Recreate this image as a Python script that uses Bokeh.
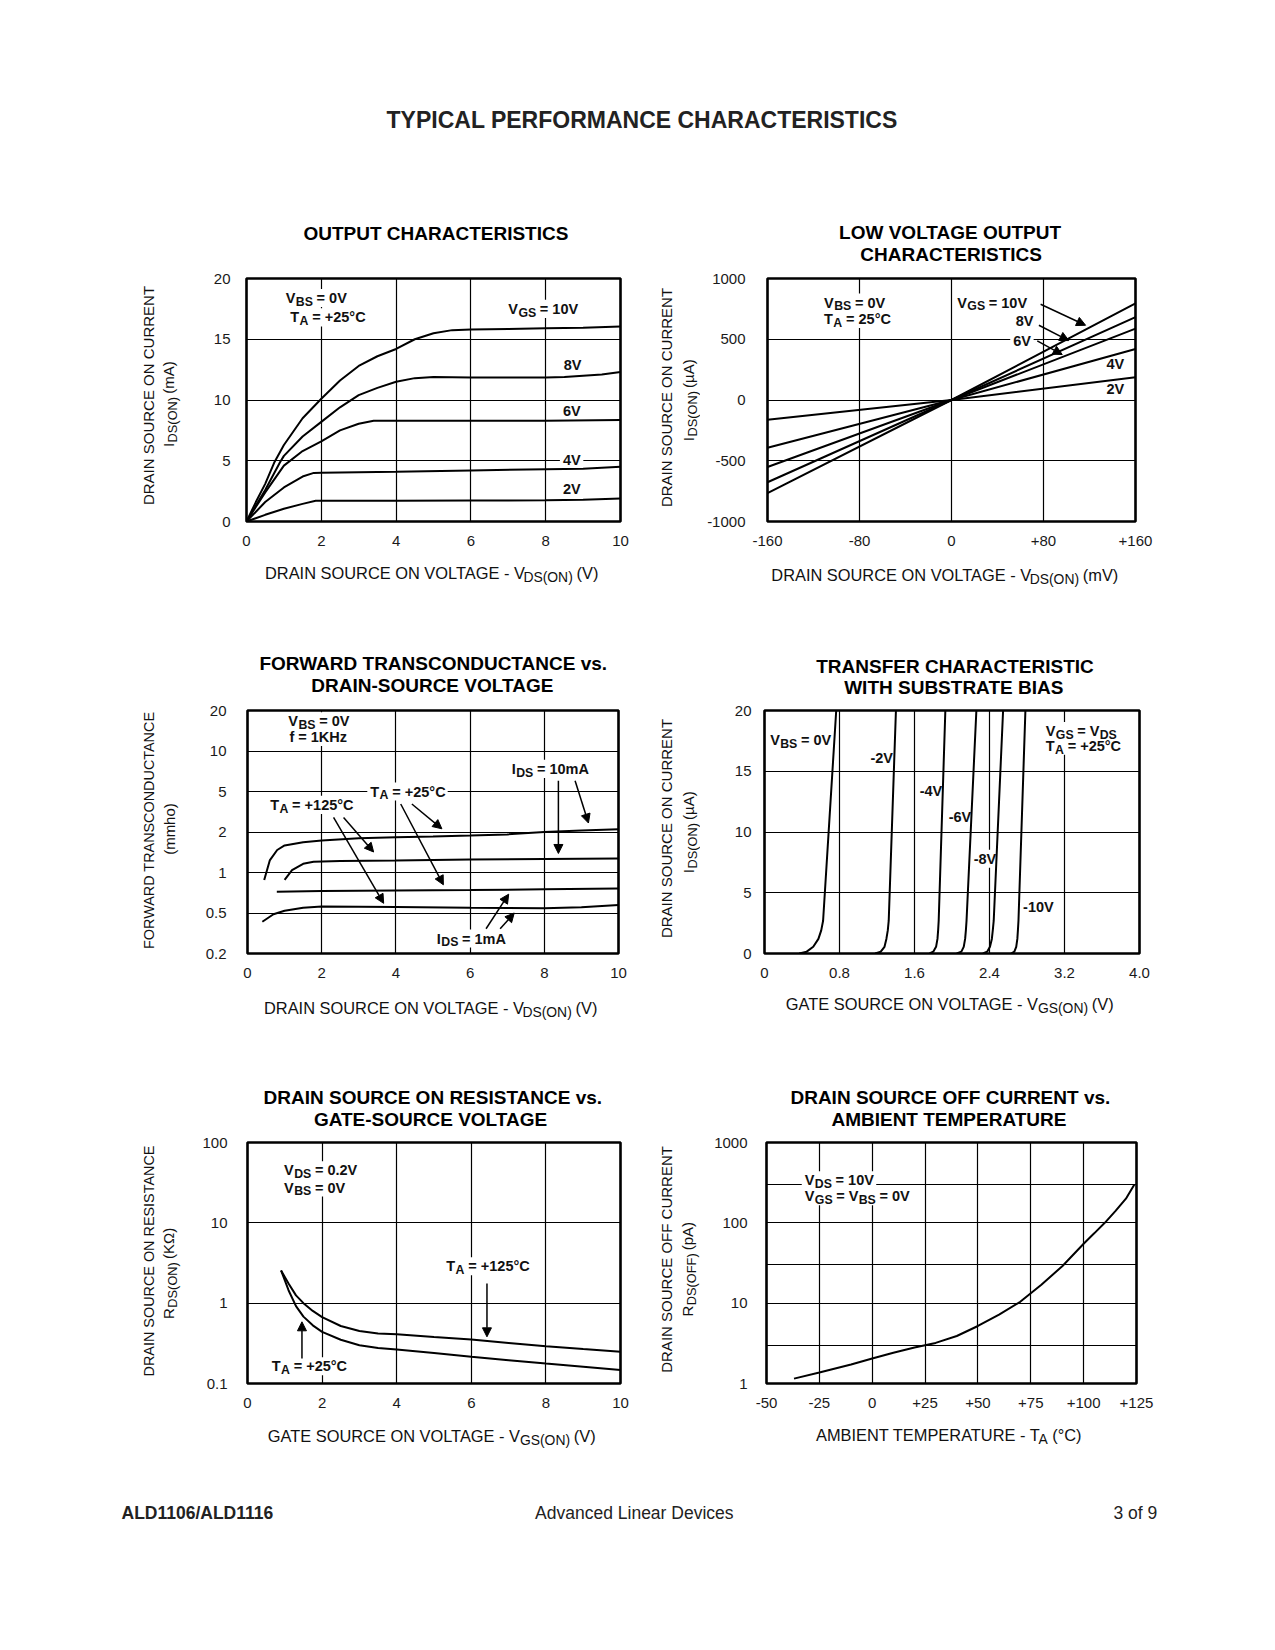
import re
import numpy as np
from bokeh.plotting import figure
from bokeh.models import Range1d, FixedTicker, Label, Arrow, NormalHead, CustomJSTickFormatter
from bokeh.layouts import column, row
from bokeh.embed import file_html
from bokeh.resources import INLINE

FONT = "Liberation Sans"
INK = "#111111"

# ---------------- data ----------------
# 1. Output characteristics: V_DS (V) vs I_DS (mA)
OUT_V_10 = [0, 0.25, 0.5, 0.75, 1, 1.5, 2, 2.5, 3, 3.5, 4, 4.5, 5, 5.5, 6, 7, 8, 9, 10]
OUT_I_10 = [0, 1.6, 3.1, 4.9, 6.3, 8.5, 10.1, 11.6, 12.8, 13.6, 14.2, 15.0, 15.5, 15.75, 15.8, 15.85, 15.9, 15.95, 16.05]
OUT_V_8 = [0, 0.5, 0.9, 1, 1.5, 2, 2.5, 3, 3.5, 4, 4.5, 5, 6, 7, 8, 8.5, 9, 9.5, 10]
OUT_I_8 = [0, 2.6, 4.9, 5.4, 7.0, 8.2, 9.4, 10.4, 11.0, 11.5, 11.8, 11.9, 11.85, 11.85, 11.85, 11.9, 12.0, 12.1, 12.3]
OUT_V_6 = [0, 0.5, 1, 1.5, 2, 2.5, 3, 3.4, 4, 6, 8, 10]
OUT_I_6 = [0, 2.4, 4.6, 5.8, 6.6, 7.5, 8.05, 8.3, 8.3, 8.3, 8.3, 8.35]
OUT_V_4 = [0, 0.5, 1, 1.5, 1.8, 2, 4, 6, 8, 9, 10]
OUT_I_4 = [0, 1.6, 2.8, 3.7, 4.0, 4.02, 4.1, 4.2, 4.3, 4.35, 4.5]
OUT_V_2 = [0, 0.5, 1, 1.5, 1.85, 4, 6, 8, 9, 10]
OUT_I_2 = [0, 0.55, 1.05, 1.45, 1.7, 1.7, 1.72, 1.75, 1.8, 1.9]

# 2. Low voltage output: V_DS (mV) vs I_DS (uA)
LV_V = [-160, 0, 160]
LV_I_10 = [-767, 0, 795]
LV_I_8 = [-677, 0, 682]
LV_I_6 = [-551, 0, 588]
LV_I_4 = [-393, 0, 420]
LV_I_2 = [-163, 0, 187]

# 3. Forward transconductance (mmho) vs V_DS (V)
GM_TICKS = [0.2, 0.5, 1, 2, 5, 10, 20]
GM_LABELS = ["0.2", "0.5", "1", "2", "5", "10", "20"]
GM_V_25_10 = [0.45, 0.6, 0.8, 1.0, 1.5, 2, 3, 4, 5, 6, 7, 8, 9, 10]
GM_G_25_10 = [0.88, 1.23, 1.47, 1.59, 1.68, 1.73, 1.80, 1.83, 1.85, 1.88, 1.92, 2.0, 2.07, 2.13]
GM_V_125_10 = [1.0, 1.2, 1.5, 1.78, 2.5, 4, 6, 8, 10]
GM_G_125_10 = [0.88, 1.04, 1.16, 1.20, 1.22, 1.23, 1.25, 1.26, 1.27]
GM_V_25_1 = [0.79, 2, 4, 6, 8, 10]
GM_G_25_1 = [0.72, 0.73, 0.735, 0.74, 0.75, 0.76]
GM_V_125_1 = [0.4, 0.7, 1.0, 1.5, 2, 4, 6, 8, 9, 10]
GM_G_125_1 = [0.41, 0.486, 0.52, 0.547, 0.559, 0.555, 0.547, 0.543, 0.551, 0.574]

# 4. Transfer characteristic: V_GS (V) vs I_DS (uA)
TR_I = [0, 0.15, 0.55, 1.2, 1.9, 2.7, 20]
TR_V_0 = [0.37, 0.45, 0.52, 0.575, 0.605, 0.625, 0.765]
TR_V_2 = [1.18, 1.24, 1.28, 1.30, 1.315, 1.325, 1.402]
TR_V_4 = [1.76, 1.80, 1.83, 1.845, 1.852, 1.858, 1.929]
TR_V_6 = [2.05, 2.10, 2.125, 2.14, 2.148, 2.155, 2.26]
TR_V_8 = [2.33, 2.375, 2.405, 2.425, 2.435, 2.445, 2.545]
TR_V_10 = [2.63, 2.665, 2.685, 2.697, 2.703, 2.709, 2.783]

# 5. On resistance (kOhm) vs V_GS (V)
RON_V = [0.9, 1.1, 1.3, 1.5, 1.75, 2, 2.5, 3, 3.5, 4, 5, 6, 7, 8, 9, 10]
RON_125 = [2.55, 1.76, 1.25, 1.0, 0.8, 0.67, 0.52, 0.45, 0.42, 0.41, 0.38, 0.353, 0.32, 0.29, 0.268, 0.248]
RON_25 = [2.55, 1.45, 0.92, 0.68, 0.53, 0.44, 0.35, 0.30, 0.277, 0.265, 0.24, 0.215, 0.195, 0.177, 0.162, 0.147]

# 6. Off current (pA) vs temperature (C)
OFF_T = [-37, -25, -10, 0, 10, 20, 30, 40, 50, 60, 70, 80, 90, 100, 105, 110, 115, 120, 124]
OFF_I = [1.15, 1.37, 1.72, 2.05, 2.42, 2.8, 3.2, 3.9, 5.2, 7.2, 10.4, 17.0, 29, 55, 74, 100, 140, 200, 300]

# ---------------- text helpers ----------------
_UP = "ABCDEFGHIJKLMNOPQRSTUVWXYZ"
_LO = "abcdefghijklmnopqrstuvwxyz"
_COMMON = {' ': 278, '(': 333, ')': 333, '+': 584, '-': 333, '.': 278, '/': 278, '=': 584, '°': 400}
_REG = dict(zip(_UP, [667, 667, 722, 722, 667, 611, 778, 722, 278, 500, 667, 556, 833, 722, 778, 667, 778, 722, 667, 611, 722, 667, 944, 667, 667, 611]))
_REG.update(zip(_LO, [556, 556, 500, 556, 556, 278, 556, 556, 222, 222, 500, 222, 833, 556, 556, 556, 556, 333, 500, 278, 556, 500, 722, 500, 500, 500]))
_REG.update({'µ': 576, 'Ω': 768})
_BOLD = dict(zip(_UP, [722, 722, 722, 722, 667, 611, 778, 722, 278, 556, 722, 611, 833, 722, 778, 667, 778, 722, 667, 611, 722, 667, 944, 667, 667, 611]))
_BOLD.update(zip(_LO, [556, 611, 556, 611, 556, 333, 611, 611, 278, 278, 556, 278, 889, 611, 611, 611, 611, 389, 556, 333, 611, 556, 778, 556, 556, 500]))
_BOLD.update({'µ': 611, 'Ω': 768})
for _d in (_REG, _BOLD):
    _d.update(_COMMON)
    _d.update({c: 556 for c in "0123456789"})

WFAC = 0.982      # rendered / nominal advance width
XPX = {}          # pixels per x data unit for each chart (for label knock-out boxes)


def tw(s, size, bold):
    t = _BOLD if bold else _REG
    return WFAC * sum(t.get(c, 556) for c in s) / 1000.0 * size


def put(p, x, y, s, size, bold=False, align="left", vertical=False, dx=0.0, dy=0.0,
        bg=False, color=INK):
    parts = [t for t in re.split(r"(_\{[^}]*\})", s) if t]
    items = []
    for t in parts:
        sub = t.startswith("_{")
        txt = t[2:-1] if sub else t
        fs = size * 0.85 if sub else size
        lead = len(txt) - len(txt.lstrip(" "))
        body = re.sub(r" {2,}", " ", txt.lstrip(" "))
        gap = 0.04 * size if sub else 0.0
        items.append((body, fs, sub, tw(" " * lead, fs, bold) + gap, tw(body, fs, bold)))
    total = sum(it[3] + it[4] for it in items)
    pos0 = {"left": 0.0, "center": -total / 2, "right": -total}[align]
    if bg:
        cx = x + (pos0 + total / 2) / XPX[p.id]
        r = p.rect(x=[cx], y=[y], width=[total + 6], height=[1.25 * size],
                   width_units="screen", height_units="screen",
                   fill_color="white", line_color=None)
        r.level = "underlay"
    pos = pos0
    for body, fs, sub, lw, w in items:
        pos += lw
        if body:
            drop = 0.27 * size if sub else 0.0
            if vertical:
                xo, yo, ang = dx + drop, dy + pos, np.pi / 2
            else:
                xo, yo, ang = dx + pos, dy - drop, 0.0
            p.add_layout(Label(x=x, y=y, x_offset=xo, y_offset=yo, text=body, angle=ang,
                               text_font=FONT, text_font_size=f"{fs:.1f}px",
                               text_font_style="bold" if bold else "normal",
                               text_color=color, text_align="left", text_baseline="alphabetic"))
        pos += w


# ---------------- page layout (page pixel coordinates) ----------------
PAGE_W = 1270
COLS = [(0, 190), (190, 645), (645, 700), (700, PAGE_W)]
ROW_SPANS = [(270, 560), (703, 990), (1135, 1420)]
ROW_FRAMES = [(278, 521), (710, 953), (1142, 1383)]
STRIP_SPANS = [(0, 270), (560, 703), (990, 1135), (1420, 1545)]


def blank(w, h, top=0, bottom=0):
    fh = h - top - bottom
    f = figure(width=w, height=h, x_range=Range1d(0, w), y_range=Range1d(0, fh),
               output_backend="svg", toolbar_location=None, min_border=0,
               min_border_top=top, min_border_bottom=bottom,
               x_axis_location=None, y_axis_location=None)
    f.title.visible = False
    f.grid.visible = False
    f.outline_line_color = None
    f.background_fill_color = "white"
    f.border_fill_color = "white"
    return f


boxes = []   # (fig, x0, x1, y0, y1, frame_bottom_page)
strips = []
for (y0, y1) in STRIP_SPANS:
    f = blank(PAGE_W, y1 - y0)
    strips.append(f)
    boxes.append((f, 0, PAGE_W, y0, y1, y1))
ylabel_figs = []
for (y0, y1), (ft, fb) in zip(ROW_SPANS, ROW_FRAMES):
    pair = []
    for ci in (0, 2):
        x0, x1 = COLS[ci]
        f = blank(x1 - x0, y1 - y0, top=ft - y0, bottom=y1 - fb)
        pair.append(f)
        boxes.append((f, x0, x1, ft, fb, fb))
    ylabel_figs.append(pair)


def page_text(px, py, s, size, **kw):
    for (f, x0, x1, y0, y1, fbp) in boxes:
        if x0 <= px < x1 and y0 <= py < y1:
            put(f, px - x0, fbp - py, s, size, **kw)
            return
    raise ValueError("no box for %s" % s)


def chart(col, rw, fl, fr, xr, yr, ylog=False):
    ox, ox1 = COLS[col]
    oy, oy1 = ROW_SPANS[rw]
    ft, fb = ROW_FRAMES[rw]
    p = figure(width=ox1 - ox, height=oy1 - oy, x_range=Range1d(*xr), y_range=Range1d(*yr),
               y_axis_type="log" if ylog else "linear", output_backend="svg",
               toolbar_location=None, min_border_left=fl - ox, min_border_right=ox1 - fr,
               min_border_top=ft - oy, min_border_bottom=oy1 - fb)
    XPX[p.id] = (fr - fl) / float(xr[1] - xr[0])
    p.title.visible = False
    p.outline_line_color = "black"
    p.outline_line_width = 2.6
    p.outline_line_alpha = 1.0
    p.background_fill_color = "white"
    p.border_fill_color = "white"
    for ax in p.axis:
        ax.axis_line_color = None
        ax.major_tick_line_color = None
        ax.minor_tick_line_color = None
        ax.major_tick_in = 0
        ax.major_tick_out = 0
        ax.major_label_text_font = FONT
        ax.major_label_text_font_size = "15px"
        ax.major_label_text_color = "#1a1a1a"
    p.grid.grid_line_color = "black"
    p.grid.grid_line_width = 1.2
    p.grid.grid_line_alpha = 1.0
    p.grid.level = "image"
    return p


def set_ticks(axis, vals, labels, standoff):
    axis.ticker = FixedTicker(ticks=list(vals))
    axis.formatter = CustomJSTickFormatter(
        args=dict(v=list(vals), l=list(labels)),
        code="for (let i = 0; i < v.length; i++) { if (Math.abs(tick - v[i]) <= 1e-6 * Math.max(1, Math.abs(v[i]))) return l[i]; } return '';")
    axis.major_label_standoff = standoff


def arrow(p, x0, y0, x1, y1):
    p.add_layout(Arrow(end=NormalHead(size=9, fill_color="black", line_color="black", line_width=1),
                       x_start=x0, y_start=y0, x_end=x1, y_end=y1,
                       line_color="black", line_width=1.5))


def curve(p, x, y):
    p.line(x, y, line_color="black", line_width=2.0)


TITLE = 19
XL = 16.4
YL = 15
YL_LONG = 14.4
ANN = 14.5
XSO = 14

# ---------------- page header / footer ----------------
page_text(637, 119, "TYPICAL PERFORMANCE CHARACTERISTICS", 23, bold=True, align="center", color="#222222")
page_text(121, 1512, "ALD1106/ALD1116", 17.5, bold=True, color="#222222")
page_text(632, 1512, "Advanced Linear Devices", 17.5, align="center", color="#222222")
page_text(1156, 1512, "3 of 9", 17.5, align="right", color="#222222")

# ---------------- chart 1 ----------------
p1 = chart(1, 0, 246, 620, (0, 10), (0, 20))
set_ticks(p1.xaxis[0], [0, 2, 4, 6, 8, 10], ["0", "2", "4", "6", "8", "10"], XSO)
set_ticks(p1.yaxis[0], [0, 5, 10, 15, 20], ["0", "5", "10", "15", "20"], 16)
p1.xgrid.ticker = FixedTicker(ticks=[2, 4, 6, 8])
p1.ygrid.ticker = FixedTicker(ticks=[5, 10, 15])
for vx, iy in [(OUT_V_10, OUT_I_10), (OUT_V_8, OUT_I_8), (OUT_V_6, OUT_I_6), (OUT_V_4, OUT_I_4), (OUT_V_2, OUT_I_2)]:
    curve(p1, vx, iy)
page_text(433, 232.5, "OUTPUT CHARACTERISTICS", TITLE, bold=True, align="center", color="black")
page_text(431, 572, "DRAIN SOURCE ON VOLTAGE - V_{DS(ON)} (V)", XL, align="center")
page_text(148, 397, "DRAIN SOURCE ON CURRENT", YL, align="center", vertical=True)
page_text(168, 404, "I_{DS(ON)} (mA)", YL, align="center", vertical=True)
put(p1, 1.05, 18.4, "V_{BS} =  0V", ANN, bold=True, bg=True)
put(p1, 1.17, 16.8, "T_{A} = +25°C", ANN, bold=True, bg=True)
put(p1, 7.0, 17.5, "V_{GS} = 10V", ANN, bold=True, bg=True)
put(p1, 8.48, 12.85, "8V", ANN, bold=True)
put(p1, 8.46, 9.1, "6V", ANN, bold=True)
put(p1, 8.46, 5.05, "4V", ANN, bold=True, bg=True)
put(p1, 8.46, 2.7, "2V", ANN, bold=True)

# ---------------- chart 2 ----------------
p2 = chart(3, 0, 767, 1135, (-160, 160), (-1000, 1000))
set_ticks(p2.xaxis[0], [-160, -80, 0, 80, 160], ["-160", "-80", "0", "+80", "+160"], XSO)
set_ticks(p2.yaxis[0], [-1000, -500, 0, 500, 1000], ["-1000", "-500", "0", "500", "1000"], 22)
p2.xgrid.ticker = FixedTicker(ticks=[-80, 0, 80])
p2.ygrid.ticker = FixedTicker(ticks=[-500, 0, 500])
for iy in [LV_I_10, LV_I_8, LV_I_6, LV_I_4, LV_I_2]:
    curve(p2, LV_V, iy)
page_text(949, 231.5, "LOW VOLTAGE OUTPUT", TITLE, bold=True, align="center", color="black")
page_text(949, 253.5, "CHARACTERISTICS", TITLE, bold=True, align="center", color="black")
page_text(944, 574, "DRAIN SOURCE ON VOLTAGE - V_{DS(ON)} (mV)", XL, align="center")
page_text(666, 399, "DRAIN SOURCE ON CURRENT", YL, align="center", vertical=True)
page_text(688, 400, "I_{DS(ON)} (µA)", YL, align="center", vertical=True)
put(p2, -110.8, 802, "V_{BS} = 0V", ANN, bold=True, bg=True)
put(p2, -110.8, 668, "T_{A} = 25°C", ANN, bold=True, bg=True)
put(p2, 5, 802, "V_{GS} = 10V", ANN, bold=True)
put(p2, 71, 650, "8V", ANN, bold=True, align="right")
put(p2, 68.8, 487, "6V", ANN, bold=True, align="right", bg=True)
put(p2, 134.8, 300, "4V", ANN, bold=True)
put(p2, 134.8, 94, "2V", ANN, bold=True)
arrow(p2, 77.5, 788, 116.6, 615)
arrow(p2, 76, 615, 102, 489)
arrow(p2, 74.6, 487, 96.3, 374)


# ---------------- chart 3 ----------------
def gm_pos(v):
    return np.interp(np.log10(v), np.log10(GM_TICKS), np.arange(len(GM_TICKS)))


p3 = chart(1, 1, 247, 618, (0, 10), (0, 6))
set_ticks(p3.xaxis[0], [0, 2, 4, 6, 8, 10], ["0", "2", "4", "6", "8", "10"], XSO)
set_ticks(p3.yaxis[0], list(range(len(GM_TICKS))), GM_LABELS, 21)
p3.xgrid.ticker = FixedTicker(ticks=[2, 4, 6, 8])
p3.ygrid.ticker = FixedTicker(ticks=[1, 2, 3, 4, 5])
for vx, g in [(GM_V_25_10, GM_G_25_10), (GM_V_125_10, GM_G_125_10), (GM_V_25_1, GM_G_25_1), (GM_V_125_1, GM_G_125_1)]:
    curve(p3, vx, gm_pos(g))
page_text(431, 663, "FORWARD TRANSCONDUCTANCE vs.", TITLE, bold=True, align="center", color="black")
page_text(431, 685, "DRAIN-SOURCE VOLTAGE", TITLE, bold=True, align="center", color="black")
page_text(430, 1007, "DRAIN SOURCE ON VOLTAGE - V_{DS(ON)} (V)", XL, align="center")
page_text(148, 831, "FORWARD TRANSCONDUCTANCE", YL_LONG, align="center", vertical=True)
page_text(169, 829, "(mmho)", YL, align="center", vertical=True)
put(p3, 1.1, 5.73, "V_{BS} = 0V", ANN, bold=True, bg=True)
put(p3, 1.13, 5.35, "f = 1KHz", ANN, bold=True, bg=True)
put(p3, 7.12, 4.56, "I_{DS} = 10mA", ANN, bold=True, bg=True)
put(p3, 3.31, 4.0, "T_{A} = +25°C", ANN, bold=True, bg=True)
put(p3, 0.61, 3.67, "T_{A} = +125°C", ANN, bold=True, bg=True)
put(p3, 5.1, 0.37, "I_{DS} = 1mA", ANN, bold=True, bg=True)
for (xa, ga, xb, gb) in [(4.43, 3.77, 5.24, 2.15), (4.13, 3.77, 5.28, 0.81),
                         (2.59, 2.78, 3.40, 1.42), (2.32, 2.78, 3.67, 0.59),
                         (8.38, 6.0, 8.38, 1.385), (8.83, 6.0, 9.19, 2.45),
                         (6.43, 0.35, 7.04, 0.69), (6.81, 0.35, 7.19, 0.50)]:
    arrow(p3, xa, float(gm_pos(ga)), xb, float(gm_pos(gb)))

# ---------------- chart 4 ----------------
p4 = chart(3, 1, 764, 1139, (0, 4.0), (0, 20))
set_ticks(p4.xaxis[0], [0, 0.8, 1.6, 2.4, 3.2, 4.0], ["0", "0.8", "1.6", "2.4", "3.2", "4.0"], XSO)
set_ticks(p4.yaxis[0], [0, 5, 10, 15, 20], ["0", "5", "10", "15", "20"], 13)
p4.xgrid.ticker = FixedTicker(ticks=[0.8, 1.6, 2.4, 3.2])
p4.ygrid.ticker = FixedTicker(ticks=[5, 10, 15])
for vx in [TR_V_0, TR_V_2, TR_V_4, TR_V_6, TR_V_8, TR_V_10]:
    curve(p4, vx, TR_I)
page_text(952, 666, "TRANSFER CHARACTERISTIC", TITLE, bold=True, align="center", color="black")
page_text(952, 687, "WITH SUBSTRATE BIAS", TITLE, bold=True, align="center", color="black")
page_text(949, 1003, "GATE SOURCE ON VOLTAGE - V_{GS(ON)} (V)", XL, align="center")
page_text(666, 830, "DRAIN SOURCE ON CURRENT", YL, align="center", vertical=True)
page_text(688, 832, "I_{DS(ON)} (µA)", YL, align="center", vertical=True)
put(p4, 0.06, 17.6, "V_{BS} = 0V", ANN, bold=True)
put(p4, 1.13, 16.05, "-2V", ANN, bold=True)
put(p4, 1.655, 13.4, "-4V", ANN, bold=True)
put(p4, 1.964, 11.2, "-6V", ANN, bold=True)
put(p4, 2.231, 7.8, "-8V", ANN, bold=True, bg=True)
put(p4, 2.758, 3.8, "-10V", ANN, bold=True)
put(p4, 3.0, 18.3, "V_{GS} =  V_{DS}", ANN, bold=True, bg=True)
put(p4, 3.0, 17.1, "T_{A} = +25°C", ANN, bold=True, bg=True)

# ---------------- chart 5 ----------------
p5 = chart(1, 2, 247, 620, (0, 10), (0.1, 100), ylog=True)
set_ticks(p5.xaxis[0], [0, 2, 4, 6, 8, 10], ["0", "2", "4", "6", "8", "10"], XSO)
set_ticks(p5.yaxis[0], [0.1, 1, 10, 100], ["0.1", "1", "10", "100"], 20)
p5.xgrid.ticker = FixedTicker(ticks=[2, 4, 6, 8])
p5.ygrid.ticker = FixedTicker(ticks=[1, 10])
curve(p5, RON_V, RON_125)
curve(p5, RON_V, RON_25)
page_text(430, 1097, "DRAIN SOURCE ON RESISTANCE vs.", TITLE, bold=True, align="center", color="black")
page_text(430, 1119, "GATE-SOURCE VOLTAGE", TITLE, bold=True, align="center", color="black")
page_text(431, 1435, "GATE SOURCE ON VOLTAGE - V_{GS(ON)} (V)", XL, align="center")
page_text(148, 1262, "DRAIN SOURCE ON RESISTANCE", YL_LONG, align="center", vertical=True)
page_text(168, 1273, "R_{DS(ON)} (KΩ)", YL, align="center", vertical=True)
put(p5, 0.98, 45, "V_{DS} = 0.2V", ANN, bold=True, bg=True)
put(p5, 0.98, 27.5, "V_{BS} = 0V", ANN, bold=True, bg=True)
put(p5, 5.33, 2.88, "T_{A} = +125°C", ANN, bold=True, bg=True)
put(p5, 0.65, 0.164, "T_{A} = +25°C", ANN, bold=True, bg=True)
arrow(p5, 6.42, 1.76, 6.42, 0.381)
arrow(p5, 1.46, 0.205, 1.46, 0.586)

# ---------------- chart 6 ----------------
p6 = chart(3, 2, 766, 1136, (-50, 125), (1, 1000), ylog=True)
set_ticks(p6.xaxis[0], [-50, -25, 0, 25, 50, 75, 100, 125],
          ["-50", "-25", "0", "+25", "+50", "+75", "+100", "+125"], XSO)
set_ticks(p6.yaxis[0], [1, 10, 100, 1000], ["1", "10", "100", "1000"], 19)
p6.xgrid.ticker = FixedTicker(ticks=[-25, 0, 25, 50, 75, 100])
p6.ygrid.ticker = FixedTicker(ticks=[3, 10, 30, 100, 300])
curve(p6, OFF_T, OFF_I)
page_text(947, 1097, "DRAIN SOURCE OFF CURRENT vs.", TITLE, bold=True, align="center", color="black")
page_text(947, 1119, "AMBIENT TEMPERATURE", TITLE, bold=True, align="center", color="black")
page_text(948, 1434, "AMBIENT TEMPERATURE - T_{A} (°C)", XL, align="center")
page_text(666, 1261, "DRAIN SOURCE OFF CURRENT", YL, align="center", vertical=True)
page_text(687, 1269, "R_{DS(OFF)} (pA)", YL, align="center", vertical=True)
put(p6, -31.9, 339, "V_{DS} = 10V", ANN, bold=True, bg=True)
put(p6, -31.9, 215, "V_{GS} = V_{BS} = 0V", ANN, bold=True, bg=True)

# ---------------- assemble ----------------
charts = [(p1, p2), (p3, p4), (p5, p6)]
rows = [strips[0]]
for i, (pa, pb) in enumerate(charts):
    rows.append(row(ylabel_figs[i][0], pa, ylabel_figs[i][1], pb))
    rows.append(strips[i + 1])
layout = column(*rows)
open("out.html", "w").write(file_html(layout, INLINE))
